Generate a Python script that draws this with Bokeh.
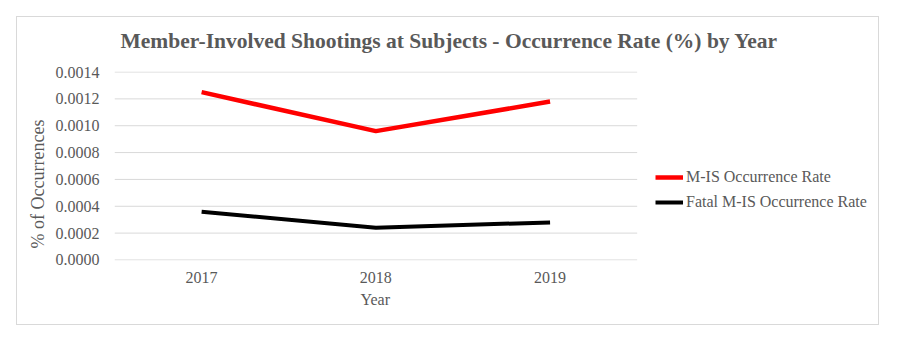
from bokeh.plotting import figure
from bokeh.models import Range1d, FixedTicker, NumeralTickFormatter, Legend, LegendItem, Title
from bokeh.embed import file_html
from bokeh.resources import INLINE

years = ["2017", "2018", "2019"]
mis_rate = [0.00125, 0.00096, 0.00118]
fatal_rate = [0.00036, 0.00024, 0.00028]
y_ticks = [0.0, 0.0002, 0.0004, 0.0006, 0.0008, 0.0010, 0.0012, 0.0014]
title_text = "Member-Involved Shootings at Subjects - Occurrence  Rate (%) by Year"
series_names = ["M-IS Occurrence Rate", "Fatal M-IS Occurrence Rate"]
y_label = "% of Occurrences"
x_label = "Year"

FONT = "Liberation Serif"
GREY = "#595959"
GRID = "#d9d9d9"

# category slots: one unit per year, centred at i + 0.5
x_pos = [i + 0.5 for i in range(len(years))]
n = len(years)
# the plotting frame spans the whole inner width so the legend can sit in it;
# the category area takes 522 of its 765 px
x_end = n * 765 / 522

p = figure(width=863, height=309,
           x_range=Range1d(0, x_end),
           y_range=Range1d(-0.000004, 0.001404),
           output_backend="svg", toolbar_location=None,
           min_border_left=97, min_border_right=0,
           min_border_top=54, min_border_bottom=66,
           margin=(16, 0, 0, 16),
           styles={"border": "1px solid #d9d9d9"})
p.outline_line_color = None
p.background_fill_color = "white"
p.border_fill_color = "white"
p.xgrid.grid_line_color = None
p.ygrid.grid_line_color = None

# horizontal gridlines limited to the category area
p.segment(x0=[0] * len(y_ticks), x1=[n] * len(y_ticks), y0=y_ticks, y1=y_ticks,
          line_color=GRID, line_width=1)

r1 = p.line(x_pos, mis_rate, line_color="#ff0000", line_width=4.5)
r2 = p.line(x_pos, fatal_rate, line_color="#000000", line_width=4)

p.yaxis.ticker = FixedTicker(ticks=y_ticks)
p.yaxis.formatter = NumeralTickFormatter(format="0.0000")
p.xaxis.ticker = FixedTicker(ticks=x_pos)
p.xaxis.major_label_overrides = {x: y for x, y in zip(x_pos, years)}

for ax in (p.xaxis[0], p.yaxis[0]):
    ax.axis_line_color = None
    ax.major_tick_line_color = None
    ax.minor_tick_line_color = None
    ax.major_tick_out = 0
    ax.major_tick_in = 0
    ax.major_label_text_font = FONT
    ax.major_label_text_font_size = "16px"
    ax.major_label_text_color = GREY
    ax.axis_label_text_font = FONT
    ax.axis_label_text_font_size = "16px"
    ax.axis_label_text_color = GREY
    ax.axis_label_text_font_style = "normal"

p.yaxis.axis_label = y_label + "\u00a0" * 8
p.yaxis.axis_label_text_font_size = "18px"
p.yaxis.major_label_standoff = 15
p.yaxis.axis_label_standoff = 5
p.xaxis.major_label_standoff = 11

legend = Legend(items=[LegendItem(label=series_names[0], renderers=[r1]),
                       LegendItem(label=series_names[1], renderers=[r2])],
                location=(541, 48), padding=0, margin=0, spacing=5,
                glyph_width=28, glyph_height=20, label_height=20,
                label_standoff=3, label_text_font=FONT,
                label_text_font_size="16px", label_text_color=GREY,
                border_line_color=None, background_fill_alpha=0)
p.add_layout(legend, "center")

# blank spacer between the plot area and the title
spacer = Title(text=" ", standoff=6, text_font=FONT, text_font_size="10px")
p.add_layout(spacer, "above")

title = Title(text=title_text, align="left", offset=6, standoff=0,
              text_font=FONT, text_font_size="21.5px", text_font_style="bold",
              text_color=GREY)
p.add_layout(title, "above")

xlab = Title(text=x_label, align="left", offset=246, standoff=7,
             text_font=FONT, text_font_size="16px", text_font_style="normal",
             text_color=GREY)
p.add_layout(xlab, "below")

open("out.html", "w").write(file_html(p, INLINE))
